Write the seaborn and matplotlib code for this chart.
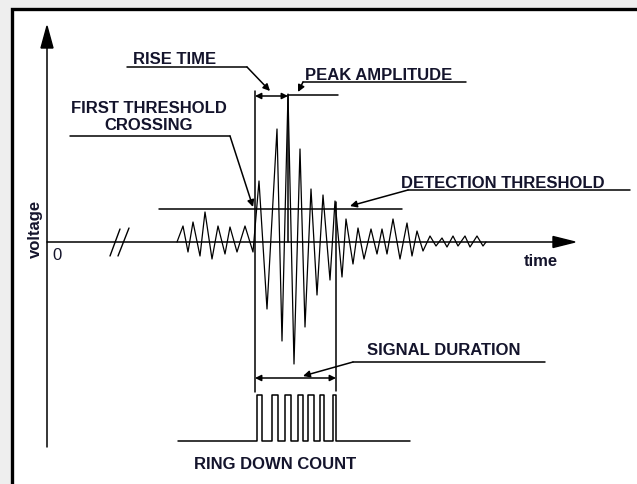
import numpy as np
import pandas as pd
import matplotlib
matplotlib.use("Agg")
import matplotlib.pyplot as plt
from matplotlib.patches import Polygon, Rectangle
import seaborn as sns

# ---- waveform (time, voltage) vertices of the AE burst ----
wave_time = [130, 136, 141, 146, 153, 158, 165, 171, 178, 183, 190, 198, 206,
             212, 220, 230, 235, 241, 247, 253, 258, 264, 270, 276, 283, 288,
             295, 299, 306, 311, 317, 324, 330, 335, 340, 346, 353, 360, 365,
             370, 376, 383, 389, 395, 400, 406, 411, 418, 423, 430, 436, 439]
wave_volt = [0, 16, -10, 20, -14, 30, -17, 16, -12, 15, -10, 16, -10,
             61, -67, 113, -99, 148, -122, 93, -85, 53, -53, 47, -38, 41,
             -35, 23, -22, 14, -17, 13, -12, 13, -12, 23, -17, 19, -14,
             11, -9, 6, -4, 4, -5, 6, -4, 6, -5, 6, -4, 0]

# ---- detection threshold and ring-down count ----
threshold = 33
threshold_span = [112, 355]
count_rise = [210, 225, 238, 251, 261, 273, 286]
count_fall = [215, 231, 244, 256, 267, 277, 289]
count_low, count_high = -199, -153
count_span = [131, 363]

# ---- timing markers ----
first_crossing = 208
peak_time, peak_volt = 241, 147
end_time = 289

sns.set_theme(style="white")
plt.rcParams["font.family"] = ["Liberation Sans", "DejaVu Sans"]

INK = "#14142c"
fig = plt.figure(figsize=(6.37, 4.85), dpi=100, facecolor="#eeeeee")
ax = fig.add_axes([0, 0, 1, 1])
ax.set_xlim(-47, 590)
ax.set_ylim(-242, 243)
ax.axis("off")

# white panel with heavy border
ax.add_patch(Rectangle((-35, -260), 700, 493, facecolor="white",
                       edgecolor="black", lw=2.4, zorder=0))

# axes with arrow heads
ax.plot([0, 0], [-205, 200], color="black", lw=1.1)
ax.add_patch(Polygon([[0, 216], [-6, 194], [6, 194]], closed=True,
                     color="black"))
ax.plot([0, 510], [0, 0], color="black", lw=1.1)
ax.add_patch(Polygon([[528, 0], [506, 5.5], [506, -5.5]], closed=True,
                     color="black"))
# axis break marks
ax.plot([63, 73], [-14, 13], color="black", lw=1.0)
ax.plot([71, 82], [-14, 14], color="black", lw=1.0)

# threshold line
ax.plot(threshold_span, [threshold, threshold], color="black", lw=1.1)

# waveform
wave = pd.DataFrame({"time": wave_time, "voltage": wave_volt})
sns.lineplot(data=wave, x="time", y="voltage", sort=False, estimator=None,
             color="black", lw=0.9, ax=ax)

# ring-down count pulses
ct, cv = [count_span[0]], [count_low]
for r, f in zip(count_rise, count_fall):
    ct += [r, r, f, f]
    cv += [count_low, count_high, count_high, count_low]
ct.append(count_span[1])
cv.append(count_low)
pulses = pd.DataFrame({"time": ct, "level": cv})
sns.lineplot(data=pulses, x="time", y="level", sort=False, estimator=None,
             color="black", lw=1.1, ax=ax)

# marker verticals
ax.plot([first_crossing, first_crossing], [151, -150], color="black", lw=1.1)
ax.plot([end_time, end_time], [40, -149], color="black", lw=1.1)
ax.plot([peak_time, peak_time], [peak_volt, 0], color="black", lw=1.1)
ax.plot([peak_time, 291], [peak_volt, peak_volt], color="black", lw=1.1)

dbl = dict(arrowstyle="<|-|>", color="black", lw=1.1, mutation_scale=9,
           shrinkA=0, shrinkB=0)
ax.annotate("", xy=(peak_time, 146), xytext=(first_crossing, 146),
            arrowprops=dbl)
ax.annotate("", xy=(end_time, -136), xytext=(first_crossing, -136),
            arrowprops=dbl)


def leader(points, tip):
    xs, ys = zip(*points)
    ax.plot(xs, ys, color="black", lw=1.1)
    ax.annotate("", xy=tip, xytext=points[-1],
                arrowprops=dict(arrowstyle="-|>", color="black", lw=1.1,
                                mutation_scale=10, shrinkA=0, shrinkB=0))


leader([(80, 175), (200, 175)], (223, 151))
leader([(23, 106), (183, 106)], (206, 35))
leader([(419, 160), (256, 160)], (251, 150))
leader([(583, 52), (361, 52)], (303, 36))
leader([(498, -120), (306, -120)], (256, -134))

lab = dict(color=INK, fontsize=12, fontweight="bold", ha="center",
           va="center")
ax.text(128, 183, "RISE TIME", **lab)
ax.text(332, 168, "PEAK AMPLITUDE", **lab)
ax.text(102, 126, "FIRST THRESHOLD\nCROSSING", linespacing=1.15, **lab)
ax.text(456, 60, "DETECTION THRESHOLD", **lab)
ax.text(397, -108, "SIGNAL DURATION", **lab)
ax.text(228, -222, "RING DOWN COUNT", **lab)
ax.text(494, -19, "time", **lab)
ax.text(-12, 14, "voltage", rotation=90, **lab)
ax.text(10, -12, "0", color=INK, fontsize=12, ha="center", va="center")

fig.savefig("out.png", dpi=100, facecolor=fig.get_facecolor())
